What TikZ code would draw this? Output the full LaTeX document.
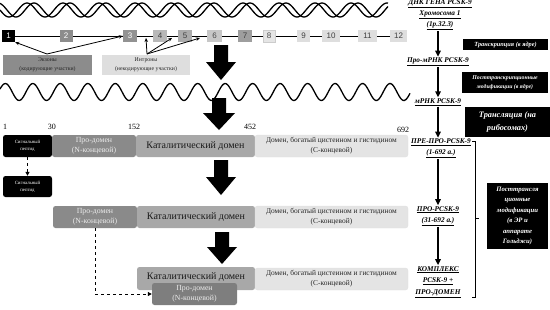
\documentclass[tikz,border=0pt]{standalone}
\usepackage{fontspec}
\setmainfont{Liberation Serif}
\newfontfamily\numfont{Liberation Sans}
\usetikzlibrary{arrows.meta}
\definecolor{exg}{HTML}{8C8C8C}
\definecolor{ing}{HTML}{DEDEDE}
\definecolor{prog}{HTML}{8A8A8A}
\definecolor{catg}{HTML}{A8A8A8}
\definecolor{cg}{HTML}{E4E4E4}
\definecolor{pro3g}{HTML}{7E7E7E}
\begin{document}
\begin{tikzpicture}[x=1pt,y=-1pt,
  ex/.style={minimum width=13pt, minimum height=12pt, inner sep=0pt, font=\numfont\fontsize{8}{8}\selectfont},
  leg/.style={inner sep=0pt, align=center, font=\fontsize{5.8}{9}\selectfont, text=black!85},
  dom/.style={rounded corners=2.5pt, inner sep=0pt, align=center},
  num/.style={inner sep=0pt, font=\fontsize{8}{8}\selectfont},
  rl/.style={inner sep=1pt, align=center, font=\fontsize{7.3}{11}\selectfont\bfseries\itshape},
  bbox/.style={fill=black, text=white, inner sep=0pt, align=center, font=\bfseries\itshape},
  rarr/.style={line width=1.3pt, -{Triangle[length=6pt,width=5.5pt]}},
  tarr/.style={line width=0.8pt, -{Stealth[length=4pt,width=3.5pt]}},
  darr/.style={line width=1pt, dashed, -{Triangle[length=4pt,width=4pt]}},
  ctext/.style={font=\fontsize{7.4}{10}\selectfont, text=black!85},
  big/.style={fill=black}
]
\useasboundingbox (0,0) rectangle (550,309);

% DNA double helix
\draw[line width=1.3pt] plot[domain=0:388, samples=260, smooth] (\x, {10+7*sin(10*\x)});
\draw[line width=1.3pt] plot[domain=0:388, samples=260, smooth] (\x, {10+7*sin(10*\x-70)});

% gene line
\coordinate (gl) at (3,36);
\coordinate (gr) at (405,36);
\draw[line width=1pt] (gl) -- (gr);

\node[ex, fill=black, text=white] (e1) at (8.5,36) {1};
\node[ex, fill=exg, text=white] (e2) at (66,36) {2};
\node[ex, fill=exg!95!white, text=white, minimum width=14pt] (e3) at (130,36) {3};
\node[ex, fill=black!28, text=black!75, minimum width=14pt] (e4) at (160,36) {4};
\node[ex, fill=black!33, text=black!75, minimum width=14pt] (e5) at (185,36) {5};
\node[ex, fill=black!22, text=black!70, minimum width=15pt] (e6) at (214.5,36) {6};
\node[ex, fill=black!38, text=black!75, minimum width=14pt] (e7) at (245,36) {7};
\node[ex, fill=black!10, draw=black!20, text=black!70, minimum width=12pt] (e8) at (269,36) {8};
\node[ex, fill=black!13, text=black!75, minimum width=13pt] (e9) at (303.5,36) {9};
\node[ex, fill=black!13, text=black!75, minimum width=18pt] (e10) at (331,36) {10};
\node[ex, fill=black!13, text=black!75, minimum width=19pt] (e11) at (367.5,36) {11};
\node[ex, fill=black!13, text=black!75, minimum width=17pt] (e12) at (398.5,36) {12};

% legend
\node[leg, fill=exg, minimum width=89pt, minimum height=20pt] (exl) at (47.5,65) {Экзоны\\(кодирующие участки)};
\node[leg, fill=ing, minimum width=88pt, minimum height=20pt] (inl) at (146,65) {Интроны\\(некодирующие участки)};
\coordinate (exo) at (47,54);
\coordinate (ino) at (147,54);
\coordinate (i1) at (146,38);
\coordinate (i2) at (172,38);
\coordinate (i3) at (200,38);
\draw[tarr] (exo) -- (e1.south east);
\draw[tarr] (exo) -- (e3.west);
\draw[tarr] (ino) -- (i1);
\draw[tarr] (ino) -- (i2);
\draw[tarr] (ino) -- (i3);

% big arrows
\fill[big] (214,45) -- (228,45) -- (228,62) -- (236,62) -- (221,80) -- (206,62) -- (214,62) -- cycle;
\fill[big] (212,98) -- (226,98) -- (226,113) -- (235,113) -- (219,130) -- (203,113) -- (212,113) -- cycle;
\fill[big] (214,160) -- (228,160) -- (228,177) -- (236,177) -- (221,195) -- (206,177) -- (214,177) -- cycle;
\fill[big] (215,232) -- (229,232) -- (229,247) -- (237,247) -- (222,264) -- (207,247) -- (215,247) -- cycle;

% mRNA wave
\draw[line width=1.3pt] plot[domain=0:410, samples=300, smooth] (\x, {92-8.5*sin(13.1*\x+20)});

% numbers
\node[num] (n1) at (5,127) {1};
\node[num] (n30) at (52,127) {30};
\node[num] (n152) at (134,127) {152};
\node[num] (n452) at (250,127) {452};
\node[num] (n692) at (403,130) {692};

% row 1
\node[dom, fill=black, text=white, minimum width=49pt, minimum height=22pt, font=\fontsize{4.8}{7}\selectfont] (sig1) at (27.5,146) {Сигнальный\\пептид};
\node[dom, fill=prog, text=white!92!black, minimum width=84pt, minimum height=22pt, font=\fontsize{7.8}{10}\selectfont] (pro1) at (94,146) {Про-домен\\(N-концевой)};
\node[dom, fill=catg, text=black!90, minimum width=119pt, minimum height=22pt, font=\fontsize{10}{12}\selectfont] (cat1) at (195.5,146) {Каталитический домен};
\node[dom, fill=cg, draw=black!12, ctext, minimum width=153pt, minimum height=22pt] (c1) at (331.5,146) {Домен, богатый цистеином и гистидином\\(С-концевой)};

\node[dom, fill=black, text=white, minimum width=49pt, minimum height=21pt, font=\fontsize{4.8}{7}\selectfont] (sig2) at (27.5,186.5) {Сигнальный\\пептид};
\draw[darr] (sig1.south) -- (sig2.north);

% row 2
\node[dom, fill=prog, text=white!92!black, minimum width=84pt, minimum height=22pt, font=\fontsize{7.8}{10}\selectfont] (pro2) at (95,217) {Про-домен\\(N-концевой)};
\node[dom, fill=catg, text=black!90, minimum width=118pt, minimum height=22pt, font=\fontsize{10}{12}\selectfont] (cat2) at (196,217) {Каталитический домен};
\node[dom, fill=cg, draw=black!12, ctext, minimum width=153pt, minimum height=22pt] (c2) at (331.5,217) {Домен, богатый цистеином и гистидином\\(С-концевой)};

% row 3
\node[dom, fill=catg, text=black!90, minimum width=118pt, minimum height=23pt, font=\fontsize{10}{12}\selectfont, text depth=4pt] (cat3) at (196,278.5) {Каталитический домен};
\node[dom, fill=cg, draw=black!12, ctext, minimum width=153pt, minimum height=22pt] (c3) at (331.5,279) {Домен, богатый цистеином и гистидином\\(С-концевой)};
\node[dom, fill=pro3g, text=white!92!black, minimum width=85pt, minimum height=22pt, font=\fontsize{7.8}{10}\selectfont] (pro3) at (194.5,294) {Про-домен\\(N-концевой)};
\draw[darr] (pro2.south) |- (pro3.west);

% right column labels
\node[rl] (dna) at (440,15) {\underline{ДНК ГЕНА PCSK-9}\\\underline{Хромосома 1}\\\underline{(1p.32.3)}};
\node[rl] (pmrna) at (438,62) {\underline{Про-мРНК PCSK-9}};
\node[rl] (mrna) at (438,102) {\underline{мРНК PCSK-9}};
\node[rl] (prepro) at (441,148.5) {\underline{ПРЕ-ПРО-PCSK-9}\\\underline{(1-692 а.)}};
\node[rl] (propc) at (438,216) {\underline{ПРО-PCSK-9}\\\underline{(31-692 а.)}};
\node[rl, font=\fontsize{7.3}{11.5}\selectfont\bfseries\itshape] (compl) at (438,282) {\underline{КОМПЛЕКС}\\\underline{PCSK-9 +}\\\underline{ПРО-ДОМЕН}};
\draw[rarr] (dna.south -| pmrna) -- (pmrna.north);
\draw[rarr] (pmrna.south) -- (mrna.north);
\draw[rarr] (mrna.south -| 438,0) -- (prepro.north -| 438,0);
\draw[rarr] (prepro.south -| 438,0) -- (propc.north);
\draw[rarr] (propc.south) -- (compl.north);

% black boxes
\node[bbox, minimum width=85pt, minimum height=11pt, font=\fontsize{6.3}{7}\selectfont\bfseries\itshape] (btr) at (505.5,44.5) {Транскрипция (в ядре)};
\node[bbox, minimum width=86pt, minimum height=21pt, font=\fontsize{5.8}{8.5}\selectfont\bfseries\itshape] (bptr) at (505,82.5) {Посттранскрипционные\\модификации (в ядре)};
\node[bbox, minimum width=85pt, minimum height=30pt, font=\fontsize{8.3}{12.5}\selectfont\bfseries\itshape] (btl) at (507.5,122) {Трансляция (на\\рибосомах)};
\node[bbox, minimum width=61pt, minimum height=66pt, font=\fontsize{6.7}{10.5}\selectfont\bfseries\itshape] (bptl) at (517.5,216) {Посттрансля\\ционные\\модификации\\(в ЭР и\\аппарате\\Гольджи)};

% bracket
\coordinate (bt) at (472,141);
\coordinate (bb) at (472,297);
\draw[line width=0.8pt] (bt) -- ++(3,0) -- ++(0,156) -- (bb);
\coordinate (bm) at (475,218);
\draw[line width=0.8pt] (bm) -- ++(4,0);
\end{tikzpicture}
\end{document}
